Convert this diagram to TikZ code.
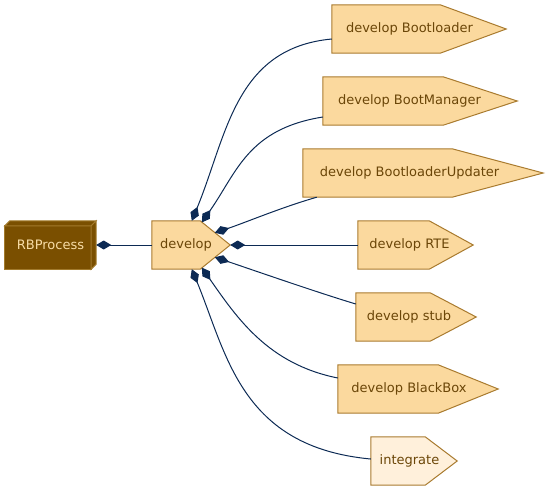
\documentclass[tikz,border=0pt]{standalone}
\usepackage{fontspec}
\setmainfont{DejaVu Sans}
\usetikzlibrary{arrows.meta,calc,backgrounds}
\definecolor{pfill}{HTML}{FBD99E}
\definecolor{pdraw}{HTML}{A97B2F}
\definecolor{ptext}{HTML}{6B4608}
\definecolor{ifill}{HTML}{FFF0DB}
\definecolor{edgecol}{HTML}{0C2A54}
\definecolor{rbfill}{HTML}{7A4F00}
\definecolor{rbtext}{HTML}{F7DCA6}
\definecolor{rbdraw}{HTML}{A27A2C}
\newcommand\pentpath[3]{\draw[pentshape,fill=#3] (#1.north west) -- ($(#1.north east)+(-#2,0)$) -- (#1.east) -- ($(#1.south east)+(-#2,0)$) -- (#1.south west) -- cycle;}
\begin{document}
\begin{tikzpicture}[x=1pt,y=-1pt,
  font=\fontsize{13}{15}\selectfont,
  box/.style={draw=none, inner sep=0pt, minimum height=48pt, text=ptext},
  pentshape/.style={draw=pdraw, line width=1pt, line join=miter},
  rbshape/.style={draw=rbdraw, fill=rbfill, line width=1pt, line join=miter},
  conn/.style={draw=edgecol, line width=1pt, {Diamond[length=15pt,width=9pt]}-}]

\useasboundingbox (0,0) rectangle (547,491);

\node[box, minimum width=91pt, text=rbtext] (rbp) at (50.5,245) {RBProcess};
\node[box, minimum width=78pt] (dev) at (191,245) {develop\hspace*{10pt}};
\node[box, minimum width=174pt] (bl) at (419,29) {develop Bootloader\hspace*{19pt}};
\node[box, minimum width=194pt] (bm) at (420,101) {develop BootManager\hspace*{21pt}};
\node[box, minimum width=240pt] (bu) at (423,173) {develop BootloaderUpdater\hspace*{27pt}};
\node[box, minimum width=115pt] (rte) at (415.5,245) {develop RTE\hspace*{12pt}};
\node[box, minimum width=120pt] (stub) at (416,317) {develop stub\hspace*{14pt}};
\node[box, minimum width=160pt] (bb) at (418,389) {develop BlackBox\hspace*{18pt}};
\node[box, minimum width=86pt] (int) at (414,461) {integrate\hspace*{9pt}};

\begin{scope}[on background layer]
  \draw[rbshape] ($(rbp.north west)+(0,5)$) rectangle ($(rbp.south east)+(-5,0)$);
  \draw[rbshape] ($(rbp.north west)+(0,5)$) -- ($(rbp.north west)+(5,0)$) -- (rbp.north east) -- ($(rbp.north east)+(-5,5)$) -- cycle;
  \draw[rbshape] ($(rbp.north east)+(-5,5)$) -- (rbp.north east) -- ($(rbp.south east)+(0,-5)$) -- ($(rbp.south east)+(-5,0)$) -- cycle;
  \pentpath{dev}{30}{pfill}
  \pentpath{bl}{66}{pfill}
  \pentpath{bm}{74}{pfill}
  \pentpath{bu}{91}{pfill}
  \pentpath{rte}{44}{pfill}
  \pentpath{stub}{46}{pfill}
  \pentpath{bb}{60}{pfill}
  \pentpath{int}{32}{ifill}
\end{scope}

\draw[conn] (rbp.east) -- (dev.west);
\draw[conn] ($(dev.north west)+(40,0)$) .. controls +(35,-85) and +(-97,9) .. ($(bl.west)+(0,10)$);
\draw[conn] ($(dev.north west)+(50,1.6)$) .. controls +(35,-50) and +(-75,12) .. ($(bm.west)+(0,16)$);
\draw[conn] ($(dev.north west)+(63,12)$) .. controls +(30,-10) and +(-35,10) .. ($(bu.south west)+(14,0)$);
\draw[conn] (dev.east) -- (rte.west);
\draw[conn] ($(dev.south west)+(63,-12)$) .. controls +(30,10) and +(-40,-12) .. ($(stub.west)+(0,-13)$);
\draw[conn] ($(dev.south west)+(50,-1.6)$) .. controls +(35,50) and +(-70,-14) .. ($(bb.west)+(0,-11)$);
\draw[conn] ($(dev.south west)+(40,0)$) .. controls +(35,85) and +(-130,-12) .. ($(int.west)+(0,-2)$);
\end{tikzpicture}
\end{document}
